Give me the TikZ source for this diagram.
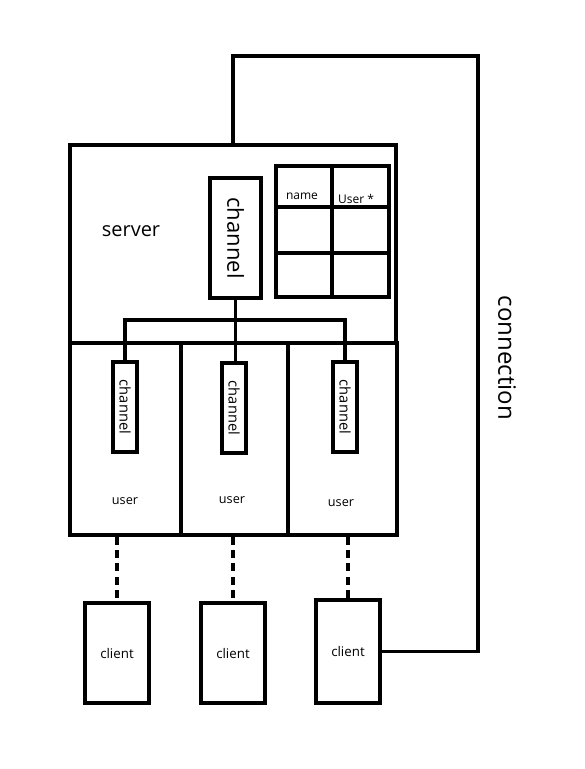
\documentclass[tikz,border=0pt]{standalone}
\usepackage{fontspec}
\setmainfont{Open Sans}
\usetikzlibrary{positioning}
\tikzset{
  box/.style={draw, line width=2.7pt, inner sep=0pt},
  chanbox/.style={box, minimum width=67.5pt, minimum height=18pt, font=\fontsize{11}{11}\selectfont, rotate=-90},
  clientbox/.style={box, minimum width=48pt, minimum height=75pt, font=\fontsize{10}{12}\selectfont},
  userbox/.style={box, minimum height=144pt, font=\fontsize{9.5}{12}\selectfont},
  cell/.style={box, line width=2.9pt, minimum width=42.5pt},
  wire/.style={line width=2.7pt},
}
\begin{document}
\begin{tikzpicture}[x=0.75pt, y=-0.75pt]
  \useasboundingbox (0,0) rectangle (585,769);
  % server and users
  \node[box, minimum width=244.5pt, minimum height=148.5pt] (server) at (233,244) {};
  \node[font=\fontsize{15}{18}\selectfont] (srvlabel) at (131,231) {server};
  \node[userbox, minimum width=83.25pt] (u1) at (125.5,439) {};
  \node[userbox, minimum width=80.25pt] (u2) at (234.5,439) {};
  \node[userbox, minimum width=81.75pt] (u3) at (342.5,439) {};
  \node[font=\fontsize{9.5}{12}\selectfont] (ul1) at (125,501) {user};
  \node[font=\fontsize{9.5}{12}\selectfont] (ul2) at (232,500) {user};
  \node[font=\fontsize{9.5}{12}\selectfont] (ul3) at (341,503) {user};
  % channels
  \node[box, minimum width=90pt, minimum height=38.25pt, rotate=-90,
        font=\fontsize{16.5}{18}\selectfont] (cmain) at (235.5,238) {channel};
  \node[chanbox] (ch1) at (125,407) {channel};
  \node[chanbox] (ch2) at (234,408) {channel};
  \node[chanbox] (ch3) at (345,407) {channel};
  % table
  \node[cell, minimum height=30.75pt] (t11) at (304,186.5) {};
  \node[cell, minimum height=30.75pt] (t12) at (360.5,186.5) {};
  \node[cell, minimum height=34.5pt] (t21) at (304,230) {};
  \node[cell, minimum height=34.5pt] (t22) at (360.5,230) {};
  \node[cell, minimum height=33pt] (t31) at (304,275) {};
  \node[cell, minimum height=33pt] (t32) at (360.5,275) {};
  \node[font=\fontsize{9}{11}\selectfont] (tname) at (302,196) {name};
  \node[font=\fontsize{9}{11}\selectfont] (tuser) at (356,199) {User *};
  % clients
  \node[clientbox] (cl1) at (117,653) {client};
  \node[clientbox] (cl2) at (233,653) {client};
  \node[clientbox, minimum height=77.25pt] (cl3) at (348,651.5) {client};
  \coordinate (bus) at (234,320);
  \coordinate (corner) at (478,56);
  \node[rotate=-90, font=\fontsize{18}{20}\selectfont] (conn) at (507,358) {connection};
  \begin{scope}[wire]
    \draw (cmain.east) -- (cmain.east |- ch2.west);
    \draw (ch1.west) |- (bus) -| (ch3.west);
    \draw (cl3.east) -| (corner) -| (server.north);
  \end{scope}
  \begin{scope}[wire, line width=3pt, dash pattern=on 6pt off 4pt]
    \draw (cl1.north |- u1.south) -- (cl1.north);
    \draw (cl2.north |- u2.south) -- (cl2.north);
    \draw (cl3.north |- u3.south) -- (cl3.north);
  \end{scope}
\end{tikzpicture}
\end{document}
